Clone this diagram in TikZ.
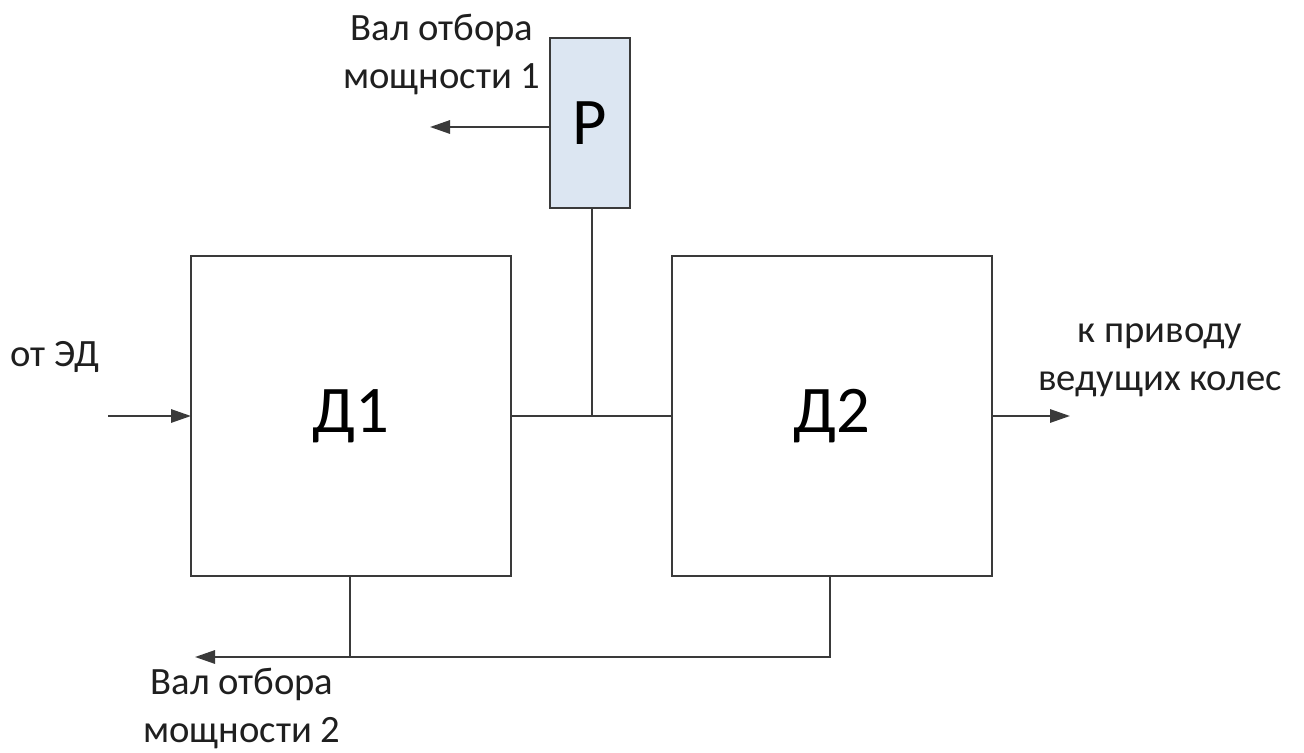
\documentclass[tikz,border=0pt]{standalone}
\usepackage{fontspec}
\setmainfont{Carlito}
\usetikzlibrary{arrows.meta}
\definecolor{linec}{HTML}{3A3A3A}
\definecolor{pfill}{HTML}{DCE6F2}
\begin{document}
\begin{tikzpicture}[x=0.75pt,y=-0.75pt,
  blk/.style={draw=linec,line width=1.5pt,inner sep=0pt,outer sep=0pt},
  conn/.style={draw=linec,line width=1.5pt},
  arr/.style={conn,-{Triangle[length=15pt,width=10pt]}},
  lbl/.style={font=\fontsize{29}{36}\selectfont,align=center,text=black!88,inner sep=0pt},
  big/.style={font=\fontsize{50}{60}\selectfont}]
\useasboundingbox (0,0) rectangle (1304,753);
\node[blk,minimum width=240pt,minimum height=240pt,big] (d1) at (351,416) {Д1};
\node[blk,minimum width=240pt,minimum height=240pt,big] (d2) at (832,416) {Д2};
\node[blk,fill=pfill,minimum width=60pt,minimum height=128pt,big] (p) at (590,123) {Р};
\coordinate (j) at (592,416);
\coordinate (pl) at (430,127);
\coordinate (in) at (108,416);
\coordinate (out) at (1070,416);
\coordinate (b1) at (350,657);
\coordinate (b2) at (830,657);
\coordinate (bl) at (195,657);
\draw[conn] (d1.east) -- (d2.west);
\draw[conn] (j) -- (j |- p.south);
\draw[arr] (p.west |- pl) -- (pl);
\draw[arr] (in) -- (d1.west);
\draw[arr] (d2.east) -- (out);
\draw[conn] (b1 |- d1.south) -- (b1);
\draw[conn] (b2 |- d2.south) -- (b2) -- (b1);
\draw[arr] (b1) -- (bl);
\node[lbl] (t1) at (442,55) {Вал отбора\\мощности 1};
\node[lbl] (t2) at (55,357) {от ЭД};
\node[lbl] (t3) at (1160,360) {к приводу\\ведущих колес};
\node[lbl] (t4) at (242,709) {Вал отбора\\мощности 2};
\end{tikzpicture}
\end{document}
